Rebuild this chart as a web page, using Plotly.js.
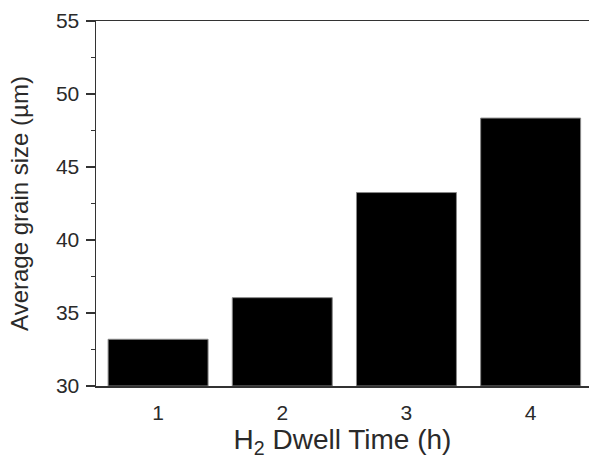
<!DOCTYPE html>
<html>
<head>
<meta charset="utf-8">
<script src="https://cdn.plot.ly/plotly-3.0.1.min.js"></script>
<style>html,body{margin:0;padding:0;background:#fff;}#chart{width:589px;height:460px;}</style>
</head>
<body>
<div id="chart"></div>
<script>
const dwellTime = [1, 2, 3, 4];
const grainSize = [33.2, 36.05, 43.25, 48.35];
const yTicks = [30, 35, 40, 45, 50, 55];
const yBase = 30;

const trace = {
  type: 'bar',
  x: dwellTime,
  y: grainSize.map(v => v - yBase),
  base: yBase,
  width: 0.805,
  marker: {color: '#000000', line: {color: '#888888', width: 1}},
  hoverinfo: 'x+y'
};

const layout = {
  width: 589, height: 460,
  margin: {l: 96, r: 0, t: 21, b: 74},
  paper_bgcolor: '#ffffff', plot_bgcolor: '#ffffff',
  font: {family: 'Liberation Sans, Arial, sans-serif', color: '#2a2a2a'},
  showlegend: false,
  xaxis: {
    range: [0.5, 4.47],
    tickvals: dwellTime,
    ticktext: dwellTime.map(String),
    ticks: '',
    ticklabelstandoff: 7,
    showgrid: false, zeroline: false,
    showline: true, linecolor: '#333333', linewidth: 1.5, mirror: true,
    tickfont: {size: 21, color: '#2a2a2a'},
    title: {text: 'H<sub>2</sub> Dwell Time (h)', font: {size: 28, color: '#2a2a2a'}, standoff: 0}
  },
  yaxis: {
    range: [30, 55],
    tickvals: yTicks,
    ticktext: yTicks.map(String),
    ticks: 'outside', ticklen: 9, tickwidth: 1.5, tickcolor: '#333333',
    ticklabelstandoff: 2,
    minor: {dtick: 2.5, ticks: 'outside', ticklen: 4, tickwidth: 1.5, tickcolor: '#333333', showgrid: false},
    showgrid: false, zeroline: false,
    showline: true, linecolor: '#333333', linewidth: 1.5,
    tickfont: {size: 21, color: '#2a2a2a'},
    title: {text: 'Average grain size (µm)', font: {size: 24, color: '#2a2a2a'}, standoff: 20}
  }
};

Plotly.newPlot('chart', [trace], layout, {displayModeBar: false, staticPlot: true});
</script>
</body>
</html>
